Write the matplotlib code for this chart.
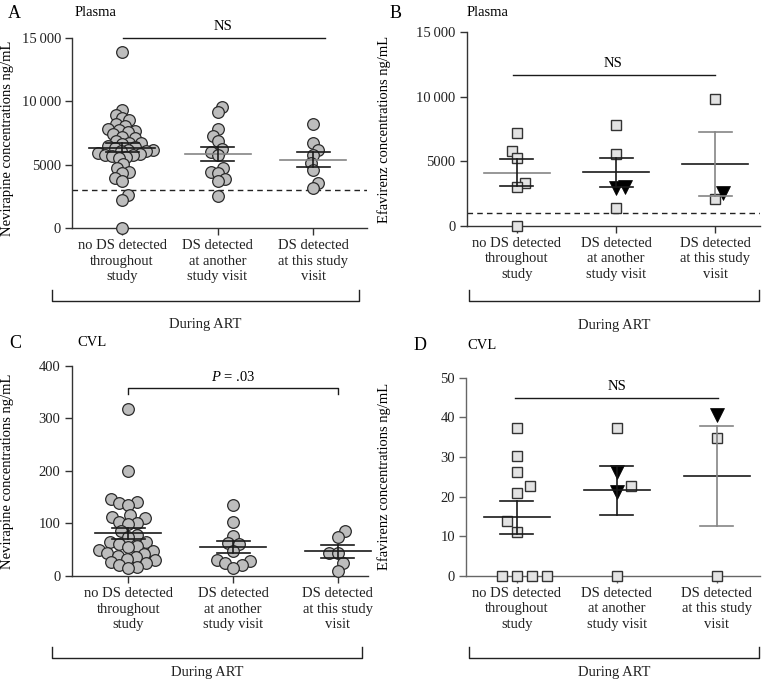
import numpy as np
import matplotlib
matplotlib.use("Agg")
import matplotlib.pyplot as plt

plt.rcParams['font.family'] = ['Liberation Serif', 'DejaVu Serif']
plt.rcParams['mathtext.fontset'] = 'custom'
plt.rcParams['mathtext.rm'] = 'Liberation Serif'
plt.rcParams['mathtext.it'] = 'Liberation Serif:italic'

group_labels = ['no DS detected\nthroughout\nstudy',
                'DS detected\nat another\nstudy visit',
                'DS detected\nat this study\nvisit']

# A: nevirapine, plasma (ng/mL)
nvp_plasma = [
    [13850, 9300, 8950, 8700, 8500, 8200, 8050, 7800, 7700, 7650, 7550, 7400, 7200, 7100,
     6900, 6750, 6700, 6600, 6500, 6400, 6300, 6200, 6150, 6100, 6050, 5950, 5850, 5800,
     5750, 5700, 5600, 5500, 5050, 4750, 4450, 4350, 3950, 3750, 2600, 2250, 0],
    [9570, 9130, 7810, 7260, 6870, 6220, 5980, 5770, 4720, 4460, 4330, 3860, 3750, 2540],
    [8180, 6730, 6160, 5770, 5110, 4590, 3590, 3150],
]
# B: efavirenz, plasma (squares / triangles)
efv_plasma_sq = [[7220, 5820, 5230, 3290, 3030, 0], [7810, 5560, 1400], [9810, 2070]]
efv_plasma_tri = [[], [3000, 2900], [2500]]
# C: nevirapine, CVL
nvp_cvl = [
    [317, 200, 146, 141, 139, 135, 116, 113, 110, 103, 101, 99, 86, 78, 75, 65, 65, 60,
     58, 56, 49, 48, 43, 42, 38, 36, 33, 30, 27, 25, 20, 18, 16],
    [135, 102, 77, 62, 61, 48, 30, 28, 24, 20, 16],
    [86, 75, 44, 43, 24, 10],
]
# D: efavirenz, CVL
efv_cvl_sq = [[37.4, 30.3, 26.1, 22.7, 20.8, 13.9, 11.0, 0, 0, 0, 0], [37.4, 22.7, 0], [34.8, 0]]
efv_cvl_tri = [[], [26.3, 21.2], [40.6]]

W, H = 767, 681
fig = plt.figure(figsize=(W / 100, H / 100), dpi=100)
fig.patch.set_facecolor('white')

BLACK = '#1a1a1a'
GRAY = '#858585'
FS = 10.5


def px_axes(left, top, right, bottom):
    return fig.add_axes([left / W, 1 - bottom / H, (right - left) / W, (bottom - top) / H])


def swarm_x(ax, xc, vals, gap):
    vals = np.asarray(vals, float)
    pix = ax.transData.transform(np.column_stack([np.full(len(vals), xc), vals]))
    ys = pix[:, 1]
    ppu = ax.transData.transform((1, 0))[0] - ax.transData.transform((0, 0))[0]
    offs = np.zeros(len(vals))
    placed = []
    flip = 1
    for i in np.argsort(ys):
        best = None
        for sgn in (flip, -flip):
            d = 0.0
            while any((d * sgn - px) ** 2 + (ys[i] - py) ** 2 < gap ** 2 for px, py in placed):
                d += 0.5
            if best is None or d < abs(best):
                best = d * sgn
        if best != 0:
            flip = -flip
        offs[i] = best
        placed.append((best, ys[i]))
    return xc + offs / ppu


def style_axes(ax, xlim, ylim, yticks, yticklabels, axcol):
    ax.set_xlim(*xlim)
    ax.set_ylim(*ylim)
    for s in ('top', 'right'):
        ax.spines[s].set_visible(False)
    for s in ('left', 'bottom'):
        ax.spines[s].set_color(axcol)
        ax.spines[s].set_linewidth(1.0)
    ax.set_xticks([1, 2, 3])
    ax.set_xticklabels(group_labels, fontsize=FS, linespacing=1.25)
    ax.set_yticks(yticks)
    ax.set_yticklabels(yticklabels, fontsize=FS)
    ax.tick_params(axis='both', length=5, width=1.0, color=axcol, labelcolor='#222', pad=3)
    ax.patch.set_alpha(0)


def mean_sem(ax, xc, vals, mcol, ecol):
    vals = np.asarray(vals, float)
    m = vals.mean()
    se = vals.std(ddof=1) / np.sqrt(len(vals))
    ppu = ax.transData.transform((1, 0))[0] - ax.transData.transform((0, 0))[0]
    mw, cw = 33 / ppu, 16.5 / ppu
    ax.plot([xc - mw, xc + mw], [m, m], color=mcol, lw=1.2, zorder=5, clip_on=False)
    ax.plot([xc, xc], [m - se, m + se], color=ecol, lw=1.2, zorder=5, clip_on=False)
    for y in (m - se, m + se):
        ax.plot([xc - cw, xc + cw], [y, y], color=ecol, lw=1.2, zorder=5, clip_on=False)


def during_art(ax, x0, x1, ybar, ytop, ytext, xtext):
    tr = ax.get_xaxis_transform()
    ax.plot([x0, x0, x1, x1], [ytop, ybar, ybar, ytop], color='#222', lw=1.0,
            transform=tr, clip_on=False)
    ax.text(xtext, ytext, 'During ART', transform=tr, ha='center', va='center',
            fontsize=FS, color='#222')


def circles_panel(ax, data, gap, cols):
    for k, vals in enumerate(data):
        xs = swarm_x(ax, k + 1, vals, gap)
        ax.plot(xs, vals, 'o', ms=8.4, mfc='#bdbdbd', mec='#2a2a2a', mew=0.9,
                zorder=3, clip_on=False)
        mean_sem(ax, k + 1, vals, cols[k][0], cols[k][1])


def mixed_panel(ax, sq, tri, gap, cols):
    for k in range(3):
        allv = list(sq[k]) + list(tri[k])
        xs = swarm_x(ax, k + 1, allv, gap)
        n = len(sq[k])
        ax.plot(xs[:n], sq[k], 's', ms=7.6, mfc='#e3e3e3', mec='#333', mew=1.0,
                zorder=3, clip_on=False)
        if tri[k]:
            ax.plot(xs[n:], tri[k], 'v', ms=10, mfc='black', mec='black', mew=0.5,
                    zorder=3, clip_on=False)
        mean_sem(ax, k + 1, allv, cols[k][0], cols[k][1])


# ---------------- A ----------------
axA = px_axes(72, 37.7, 367, 228.3)
style_axes(axA, (0.476, 3.565), (0, 15000), [0, 5000, 10000, 15000],
           ['0', '5000', '10\u2009000', '15\u2009000'], '#333')
axA.axhline(3000, color='#222', lw=1.0, ls=(0, (4, 3)), zorder=2)
circles_panel(axA, nvp_plasma, 7.0, [(BLACK, BLACK), (GRAY, BLACK), (GRAY, BLACK)])
axA.plot([1.01, 3.12], [15000, 15000], color=BLACK, lw=1.0, clip_on=False)
axA.text(2.06, 15900, 'NS', ha='center', va='center', fontsize=FS)
axA.set_ylabel('Nevirapine concentrations ng/mL', fontsize=FS)
axA.yaxis.set_label_coords(-0.197, 0.47)
during_art(axA, 0.27, 3.48, -0.381, -0.324, -0.507, 1.874)

# ---------------- B ----------------
axB = px_axes(466.7, 32.3, 760, 225.7)
style_axes(axB, (0.496, 3.45), (0, 15000), [0, 5000, 10000, 15000],
           ['0', '5000', '10\u2009000', '15\u2009000'], '#333')
axB.axhline(1000, color='#222', lw=1.0, ls=(0, (4, 3)), zorder=2)
mixed_panel(axB, efv_plasma_sq, efv_plasma_tri, 9.0, [(GRAY, BLACK), (BLACK, BLACK), (BLACK, GRAY)])
axB.plot([0.96, 3.0], [11700, 11700], color=BLACK, lw=1.0, clip_on=False)
axB.text(1.97, 12550, 'NS', ha='center', va='center', fontsize=FS)
axB.set_ylabel('Efavirenz concentrations ng/mL', fontsize=FS)
axB.yaxis.set_label_coords(-0.258, 0.5)
during_art(axB, 0.519, 3.44, -0.389, -0.332, -0.514, 1.98)

# ---------------- C ----------------
axC = px_axes(71.7, 365.7, 368.3, 576)
style_axes(axC, (0.46, 3.29), (0, 400), [0, 100, 200, 300, 400],
           ['0', '100', '200', '300', '400'], '#333')
circles_panel(axC, nvp_cvl, 9.0, [(BLACK, BLACK), (BLACK, BLACK), (BLACK, BLACK)])
axC.plot([1, 1, 3, 3], [347, 358, 358, 347], color=BLACK, lw=1.0, clip_on=False)
axC.text(2, 379, '$P$ = .03', ha='center', va='center', fontsize=FS)
axC.set_ylabel('Nevirapine concentrations ng/mL', fontsize=FS)
axC.yaxis.set_label_coords(-0.195, 0.5)
during_art(axC, 0.271, 3.23, -0.39, -0.338, -0.461, 1.75)

# ---------------- D ----------------
axD = px_axes(466, 377.7, 760, 575.7)
style_axes(axD, (0.493, 3.433), (0, 50), [0, 10, 20, 30, 40, 50],
           ['0', '10', '20', '30', '40', '50'], '#666')
mixed_panel(axD, efv_cvl_sq, efv_cvl_tri, 15.0, [(BLACK, BLACK), (BLACK, BLACK), (BLACK, GRAY)])
axD.plot([0.98, 3.01], [45, 45], color=BLACK, lw=1.0, clip_on=False)
axD.text(2.0, 47.7, 'NS', ha='center', va='center', fontsize=FS)
axD.set_ylabel('Efavirenz concentrations ng/mL', fontsize=FS)
axD.yaxis.set_label_coords(-0.255, 0.5)
during_art(axD, 0.523, 3.42, -0.416, -0.36, -0.491, 1.97)

# panel letters and compartment labels
for letter, lx, name, nx, y in [('A', 14, 'Plasma', 75, 13), ('B', 396, 'Plasma', 467, 13),
                                ('C', 15, 'CVL', 77, 343), ('D', 420, 'CVL', 467, 345)]:
    fig.text(lx / W, 1 - y / H, letter, fontsize=13, ha='center', va='center')
    fig.text(nx / W, 1 - y / H, name, fontsize=FS, ha='left', va='center')

fig.savefig('out.png', dpi=100, facecolor='white')
